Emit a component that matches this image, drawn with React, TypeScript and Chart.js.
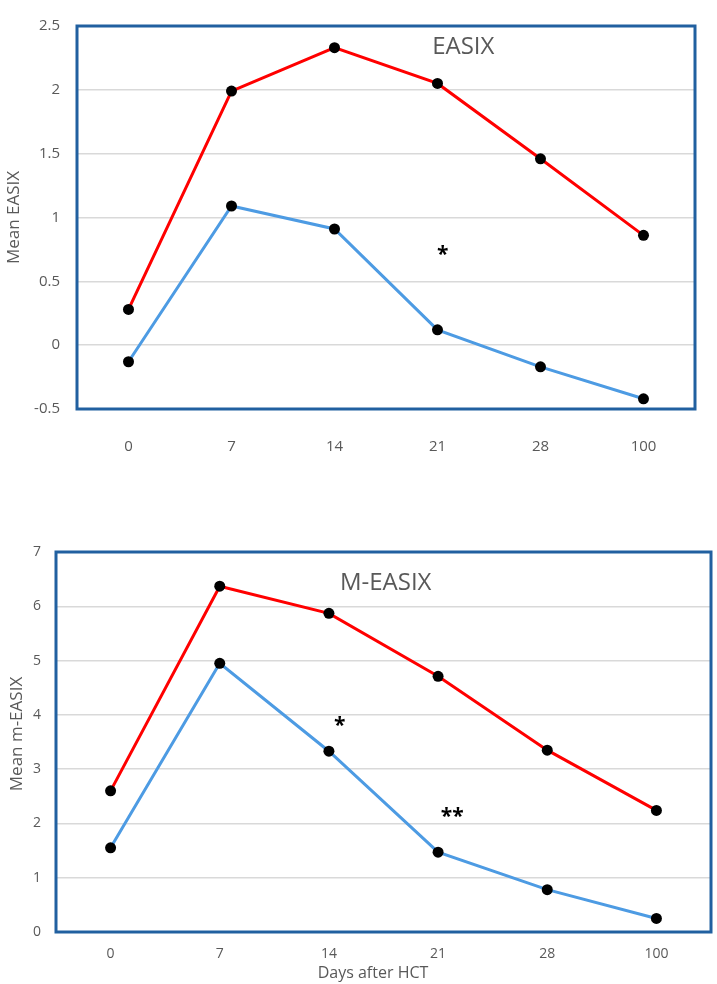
import { useEffect, useRef } from "react";
import { Chart, registerables } from "chart.js";

Chart.register(...registerables);

// Days after transplant (category axis shared by both panels)
const days = ["0", "7", "14", "21", "28", "100"];

// EASIX panel
const easixRed = [0.28, 1.99, 2.33, 2.05, 1.46, 0.86];
const easixBlue = [-0.13, 1.09, 0.91, 0.12, -0.17, -0.42];
const easixMarkText = ["*"];
const easixMarkDay = [3.05];
const easixMarkValue = [0.74];

// m-EASIX panel
const mEasixRed = [2.6, 6.37, 5.87, 4.71, 3.35, 2.24];
const mEasixBlue = [1.55, 4.95, 3.33, 1.47, 0.78, 0.25];
const mEasixMarkText = ["*", "**"];
const mEasixMarkDay = [2.1, 3.13];
const mEasixMarkValue = [3.88, 2.2];

const FONT = "'Open Sans', 'Liberation Sans', sans-serif";
const GREY = "#595959";
const FRAME = "#2160A0";
const RED = "#FF0000";
const BLUE = "#4D9BE3";

function drawCentered(
  ctx: CanvasRenderingContext2D,
  text: string,
  x: number,
  y: number,
  font: string,
  color: string,
  rotate = false
) {
  ctx.save();
  ctx.font = font;
  ctx.fillStyle = color;
  ctx.textAlign = "center";
  ctx.textBaseline = "alphabetic";
  const m = ctx.measureText(text);
  const off = (m.actualBoundingBoxAscent - m.actualBoundingBoxDescent) / 2;
  ctx.translate(x, y);
  if (rotate) ctx.rotate(-Math.PI / 2);
  ctx.fillText(text, 0, off);
  ctx.restore();
}

// Frame around the plot area, panel title, significance marks and axis titles
const panelPlugin = {
  id: "panel",
  beforeDatasetsDraw(chart: any) {
    const { ctx, chartArea: a } = chart;
    ctx.save();
    ctx.strokeStyle = FRAME;
    ctx.lineWidth = 3;
    ctx.strokeRect(a.left, a.top, a.right - a.left, a.bottom - a.top);
    ctx.restore();
  },
  afterDatasetsDraw(chart: any, _args: any, opts: any) {
    const { ctx, chartArea: a } = chart;
    const xs = chart.scales.x;
    const ys = chart.scales.y;
    drawCentered(
      ctx,
      opts.title,
      xs.getPixelForValue(opts.titleDay),
      ys.getPixelForValue(opts.titleValue),
      `24px ${FONT}`,
      GREY
    );
    opts.markText.forEach((t: string, i: number) => {
      drawCentered(
        ctx,
        t,
        xs.getPixelForValue(opts.markDay[i]),
        ys.getPixelForValue(opts.markValue[i]),
        `bold 21px ${FONT}`,
        "#000000"
      );
    });
    drawCentered(
      ctx,
      opts.yTitle,
      opts.yTitleX,
      (a.top + a.bottom) / 2 + opts.yTitleShift,
      `17px ${FONT}`,
      GREY,
      true
    );
    if (opts.xTitle) {
      drawCentered(ctx, opts.xTitle, opts.xTitleX, opts.xTitleY, `16px ${FONT}`, GREY);
    }
  },
};

type PanelProps = {
  top: number;
  height: number;
  red: number[];
  blue: number[];
  yMin: number;
  yMax: number;
  step: number;
  areaLeft: number;
  areaRight: number;
  areaTop: number;
  areaBottom: number;
  tickSize: number;
  yPad: number;
  xPad: number;
  decor: any;
};

function Panel(p: PanelProps) {
  const ref = useRef<HTMLCanvasElement | null>(null);

  useEffect(() => {
    if (!ref.current) return;
    const tickFont = { family: FONT, size: p.tickSize };
    const chart = new Chart(ref.current, {
      type: "line",
      data: {
        labels: days,
        datasets: [
          {
            data: p.red,
            borderColor: RED,
            borderWidth: 3,
            pointRadius: 5.5,
            pointBackgroundColor: "#000000",
            pointBorderWidth: 0,
            tension: 0,
          },
          {
            data: p.blue,
            borderColor: BLUE,
            borderWidth: 3,
            pointRadius: 5.5,
            pointBackgroundColor: "#000000",
            pointBorderWidth: 0,
            tension: 0,
          },
        ],
      },
      options: {
        animation: false,
        responsive: false,
        devicePixelRatio: 1,
        layout: {
          padding: { left: 0, right: 717 - p.areaRight, top: p.areaTop, bottom: 0 },
        },
        plugins: {
          legend: { display: false },
          tooltip: { enabled: false },
          panel: p.decor,
        } as any,
        scales: {
          x: {
            type: "category",
            offset: true,
            grid: { display: false, drawTicks: false },
            border: { display: false },
            ticks: { color: GREY, font: tickFont, padding: p.xPad, maxRotation: 0 },
            afterFit: (s: any) => {
              s.height = p.height - p.areaBottom;
            },
          },
          y: {
            min: p.yMin,
            max: p.yMax,
            grid: { color: "#D9D9D9", lineWidth: 1.5, drawTicks: false },
            border: { display: false },
            ticks: {
              stepSize: p.step,
              color: GREY,
              font: tickFont,
              padding: p.yPad,
              callback: (v: any) => String(Math.round(Number(v) * 10) / 10),
            },
            afterFit: (s: any) => {
              s.width = p.areaLeft;
            },
          },
        },
      },
      plugins: [panelPlugin],
    });
    return () => chart.destroy();
  }, []);

  return (
    <canvas
      ref={ref}
      width={717}
      height={p.height}
      style={{ position: "absolute", left: 0, top: p.top, width: 717, height: p.height }}
    />
  );
}

export default function App() {
  return (
    <div
      style={{
        position: "absolute",
        left: 0,
        top: 0,
        width: 717,
        height: 984,
        background: "#ffffff",
      }}
    >
      <Panel
        top={0}
        height={470}
        red={easixRed}
        blue={easixBlue}
        yMin={-0.5}
        yMax={2.5}
        step={0.5}
        areaLeft={77}
        areaRight={695}
        areaTop={13}
        areaBottom={409}
        tickSize={15}
        yPad={17}
        xPad={29}
        decor={{
          title: "EASIX",
          titleDay: 3.25,
          titleValue: 2.35,
          markText: easixMarkText,
          markDay: easixMarkDay,
          markValue: easixMarkValue,
          yTitle: "Mean EASIX",
          yTitleX: 13,
          yTitleShift: 0,
        }}
      />
      <Panel
        top={470}
        height={514}
        red={mEasixRed}
        blue={mEasixBlue}
        yMin={0}
        yMax={7}
        step={1}
        areaLeft={56}
        areaRight={711}
        areaTop={82}
        areaBottom={462}
        tickSize={14}
        yPad={15}
        xPad={14}
        decor={{
          title: "M-EASIX",
          titleDay: 2.52,
          titleValue: 6.45,
          markText: mEasixMarkText,
          markDay: mEasixMarkDay,
          markValue: mEasixMarkValue,
          yTitle: "Mean m-EASIX",
          yTitleX: 16,
          yTitleShift: -8,
          xTitle: "Days after HCT",
          xTitleX: 373,
          xTitleY: 504,
        }}
      />
    </div>
  );
}
